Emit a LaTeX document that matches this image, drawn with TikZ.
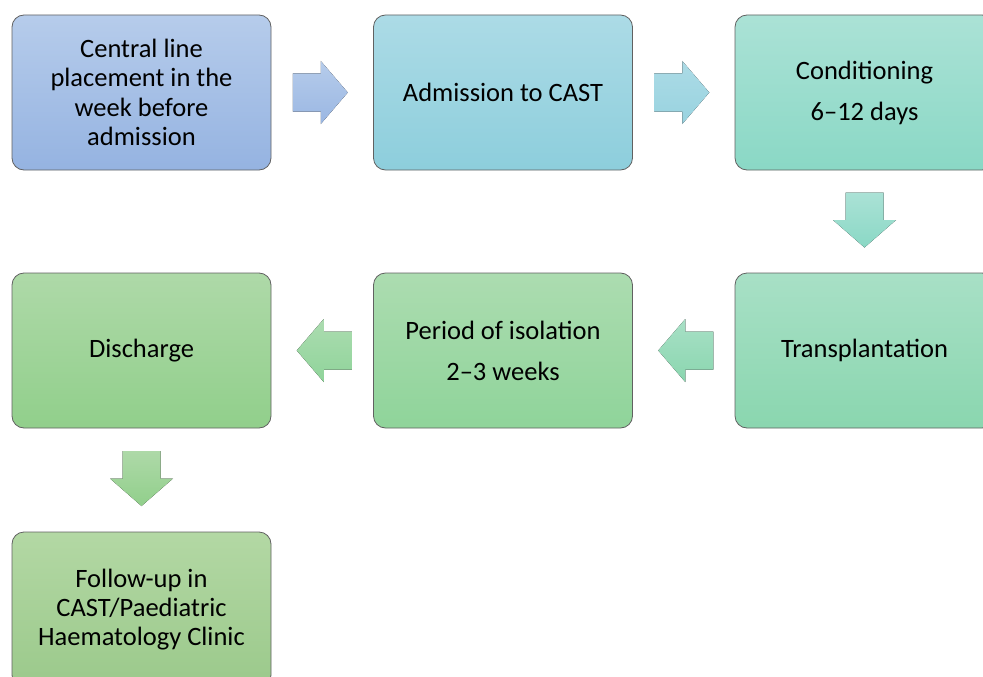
\documentclass[tikz,border=0pt]{standalone}
\usepackage{fontspec}
\setmainfont{Carlito}
\usetikzlibrary{calc}
\definecolor{aT}{HTML}{B6CCEB}\definecolor{aB}{HTML}{95B3E1}
\definecolor{bT}{HTML}{ACDBE6}\definecolor{bB}{HTML}{8DCEDC}
\definecolor{cT}{HTML}{ABE2D6}\definecolor{cB}{HTML}{8AD8C5}
\definecolor{dT}{HTML}{A8E0C6}\definecolor{dB}{HTML}{8AD6AF}
\definecolor{eT}{HTML}{ACDCB0}\definecolor{eB}{HTML}{8FD49A}
\definecolor{fT}{HTML}{AED9A8}\definecolor{fB}{HTML}{91CF8B}
\definecolor{gT}{HTML}{B3D8A4}\definecolor{gB}{HTML}{9BC98B}
\begin{document}
\begin{tikzpicture}[x=1pt,y=-1pt,
  box/.style={draw=black!62, line width=0.8pt, rounded corners=12pt,
    minimum width=259pt, minimum height=155pt, inner sep=0pt,
    align=center, font=\fontsize{26.5}{29.3}\selectfont},
  blockarrow/.style={draw=none}]
\useasboundingbox (0,0) rectangle (983,677);
\node[box, top color=aT, bottom color=aB] (b1) at (141.5,92.5) {Central line\\placement in the\\week before\\admission};
\node[box, top color=bT, bottom color=bB] (b2) at (503,92.5) {Admission to CAST};
\node[box, top color=cT, bottom color=cB] (b3) at (864.5,92.5) {Conditioning\\[11.7pt]6–12 days};
\node[box, top color=dT, bottom color=dB] (b4) at (864.5,350.5) {Transplantation};
\node[box, top color=eT, bottom color=eB] (b5) at (503,350.5) {Period of isolation\\[11.7pt]2–3 weeks};
\node[box, top color=fT, bottom color=fB] (b6) at (141.5,350.5) {Discharge};
\node[box, top color=gT, bottom color=gB] (b7) at (141.5,609.5) {Follow-up in\\CAST/Paediatric\\Haematology Clinic};
% midpoints
\coordinate (m12) at ($(b1.east)!0.5!(b2.west)+(-2,0)$);
\coordinate (m23) at ($(b2.east)!0.5!(b3.west)+(-2,0)$);
\coordinate (m34) at ($(b3.south)!0.5!(b4.north)+(0,-1.5)$);
\coordinate (m45) at ($(b4.west)!0.5!(b5.east)+(2,0)$);
\coordinate (m56) at ($(b5.west)!0.5!(b6.east)+(2,0)$);
\coordinate (m67) at ($(b6.south)!0.5!(b7.north)+(0,-1.5)$);
% right arrows
\fill[blockarrow, top color=aT, bottom color=aB!95!white, shift={(m12)}]
  (-27.5,-19) -- (0.5,-19) -- (0.5,-31.5) -- (27.5,0) -- (0.5,31.5) -- (0.5,19) -- (-27.5,19) -- cycle;
\fill[blockarrow, top color=bT, bottom color=bB!90!white, shift={(m23)}]
  (-27.5,-19) -- (0.5,-19) -- (0.5,-31.5) -- (27.5,0) -- (0.5,31.5) -- (0.5,19) -- (-27.5,19) -- cycle;
% down arrows
\fill[blockarrow, top color=cT, bottom color=cB, shift={(m34)}]
  (-19,-27.5) -- (-19,0) -- (-31.5,0) -- (0,27.5) -- (31.5,0) -- (19,0) -- (19,-27.5) -- cycle;
\fill[blockarrow, top color=fT, bottom color=fB, shift={(m67)}]
  (-19,-27.5) -- (-19,0) -- (-31.5,0) -- (0,27.5) -- (31.5,0) -- (19,0) -- (19,-27.5) -- cycle;
% left arrows
\fill[blockarrow, top color=dT, bottom color=dB, shift={(m45)}]
  (27.5,-19) -- (-0.5,-19) -- (-0.5,-31.5) -- (-27.5,0) -- (-0.5,31.5) -- (-0.5,19) -- (27.5,19) -- cycle;
\fill[blockarrow, top color=eT, bottom color=eB, shift={(m56)}]
  (27.5,-19) -- (-0.5,-19) -- (-0.5,-31.5) -- (-27.5,0) -- (-0.5,31.5) -- (-0.5,19) -- (27.5,19) -- cycle;
\end{tikzpicture}
\end{document}
